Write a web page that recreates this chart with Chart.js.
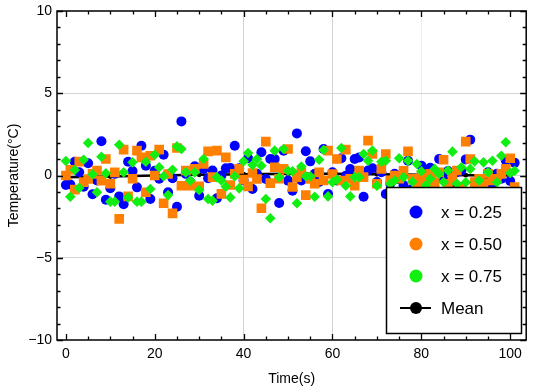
<!DOCTYPE html>
<html>
<head>
<meta charset="utf-8">
<script src="https://cdn.jsdelivr.net/npm/chart.js@4/dist/chart.umd.min.js"></script>
<style>
  html, body { margin: 0; padding: 0; background: #fff; }
  #wrap { width: 533px; height: 388px; }
</style>
</head>
<body>
<div id="wrap"><canvas id="temp-chart" width="533" height="388"></canvas></div>
<script>
// time points (s)
var time = Array.from({length: 102}, function (_, i) { return i; });

var tempX025 = [-0.58, -0.55, 0.84, 0.2, -0.68, 0.74, -1.14, -0.3, 2.08, -1.47,
    -0.78, 0.1, -1.27, -1.75, 0.84, 0.27, -0.72, 1.81, 0.6, -1.43,
    0.29, -0.2, 1.26, -1.02, -0.17, -1.9, 3.29, 0.1, -0.4, 0.56,
    -1.23, 0.4, -0.17, 0.3, -1.38, 0.0, 0.44, 0.45, 1.81, 0.44,
    -0.3, 1.05, -0.82, 0.1, 1.41, -0.21, 1.0, 1.0, -1.67, 1.51,
    -0.31, -0.92, 2.56, -0.3, 1.47, 0.86, 0.1, -0.4, 1.61, -1.12,
    0.2, -0.3, 1.05, -0.01, 0.4, 1.0, 1.1, -1.29, 0.3, 0.44,
    -0.4, 0.2, -1.12, -0.5, 0.1, -0.23, -0.6, 0.9, -0.8, -0.3,
    0.6, 0.3, 0.47, -0.9, 1.0, -0.25, 0.27, -0.6, 0.2, 0.3,
    0.98, 2.18, -0.45, -1.0, -0.3, 0.2, -0.7, 0.1, -0.2, 0.92,
    -0.33, 0.78];

var tempX050 = [0.0, 0.35, -0.86, 0.84, -0.4, -0.21, 0.1, 0.3, -0.31, 1.0,
    -0.5, 0.19, -2.64, 1.57, -1.27, -0.2, 1.51, 1.1, -1.02, 1.2,
    0.0, 1.57, -1.69, 0.09, -2.3, 1.67, -0.62, 0.3, -0.62, 0.4,
    -0.66, 0.7, 1.47, -0.1, 1.51, -1.12, 1.1, -0.58, 0.1, 0.4,
    -0.25, -0.66, 0.15, -0.21, -1.99, 2.06, -0.46, 0.5, -0.2, 0.4,
    1.61, -0.7, -0.11, 0.2, -1.19, -0.21, -0.5, 0.19, -0.3, 1.51,
    0.09, 1.0, -0.3, 1.57, -0.2, -0.62, 0.3, -0.1, 2.12, 1.31,
    -0.5, 0.4, 1.31, -0.3, 0.0, -0.2, 0.29, 1.47, -0.2, -0.5,
    -0.1, -0.3, 0.1, -0.4, 0.2, 0.96, -0.5, -0.11, 0.3, -0.7,
    2.06, 1.0, -0.4, -0.2, -0.5, 0.1, -0.3, -0.2, 0.1, 0.4,
    1.05, -0.7];

var tempX075 = [0.88, -1.29, 0.33, -0.76, 0.96, 1.98, 0.07, -1.02, 1.14, 0.13,
    -1.59, -1.59, 1.87, 0.19, -1.33, 0.8, -1.59, -1.59, 0.84, -0.82,
    1.26, 0.5, -0.05, -1.19, 0.35, 1.77, 1.61, 0.19, -0.31, 0.19,
    -0.88, 1.0, -1.43, -1.53, -0.11, -0.3, -0.68, -1.33, -0.05, -0.78,
    0.86, 1.37, 0.64, 1.0, 0.6, -1.43, -2.6, 1.51, -0.11, 1.61,
    0.29, 0.26, -1.69, 0.54, -0.05, -0.05, -1.29, 0.96, 1.55, -1.27,
    -0.41, -0.25, 1.67, -0.62, -1.27, -0.1, -0.1, 1.31, 0.9, 1.51,
    -0.62, 0.84, 0.9, -0.5, -0.3, 1.05, -0.1, 0.9, -0.38, 0.7,
    0.26, -0.6, -0.2, 0.4, 0.1, -0.4, 0.3, 1.45, -0.5, 0.5,
    -0.41, 0.4, 0.86, -0.3, 0.8, 0.2, 0.9, -0.41, 1.2, 2.02,
    0.15, 0.29];

var meanTime = [0, 10, 20, 30, 40, 50, 60, 70, 80, 90, 100];
var meanTemp = [-0.1, -0.06, 0.0, 0.05, 0.08, 0.1, 0.1, 0.08, 0.05, 0.02, 0.0];

var seriesNames = ['x = 0.25', 'x = 0.50', 'x = 0.75', 'Mean'];
var seriesColors = ['#0000ff', '#ff8000', '#11ee11', '#000000'];

var xTicks = [0, 20, 40, 60, 80, 100];
var yTicks = [-10, -5, 0, 5, 10];

function pts(xs, ys) {
    return ys.map(function (v, i) { return {x: xs[i], y: v}; });
}

var frameAndLegend = {
    id: 'frame-and-legend',
    afterDatasetsDraw: function (chart) {
        var ctx = chart.ctx, a = chart.chartArea;
        var sx = chart.scales.x, sy = chart.scales.y;
        ctx.save();
        ctx.strokeStyle = '#000';
        // inner ticks, all four sides
        ctx.lineWidth = 1.3;
        ctx.beginPath();
        for (var v = 0; v <= 100; v += 5) {
            var px = Math.round(sx.getPixelForValue(v)) + 0.5;
            var len = (v % 20 === 0) ? 6 : 3.5;
            ctx.moveTo(px, a.bottom); ctx.lineTo(px, a.bottom - len);
            ctx.moveTo(px, a.top); ctx.lineTo(px, a.top + len);
        }
        for (var w = -10; w <= 10; w += 1) {
            var py = Math.round(sy.getPixelForValue(w)) + 0.5;
            var l2 = (w % 5 === 0) ? 6 : 3.5;
            ctx.moveTo(a.left, py); ctx.lineTo(a.left + l2, py);
            ctx.moveTo(a.right, py); ctx.lineTo(a.right - l2, py);
        }
        ctx.stroke();

        // legend box
        var bx = 386, by = 187, bw = 135, bh = 146;
        ctx.fillStyle = '#fff';
        ctx.fillRect(bx, by, bw, bh);
        ctx.lineWidth = 1.5;
        ctx.strokeRect(bx + 0.5, by + 0.5, bw, bh);
        var rows = [212, 244, 276, 308];
        ctx.font = '17px "Liberation Sans", Arial, sans-serif';
        ctx.textBaseline = 'middle';
        ctx.textAlign = 'left';
        for (var i = 0; i < 4; i++) {
            ctx.fillStyle = seriesColors[i];
            if (i === 3) {
                ctx.strokeStyle = '#000';
                ctx.lineWidth = 2;
                ctx.beginPath();
                ctx.moveTo(400, rows[i]); ctx.lineTo(431, rows[i]);
                ctx.stroke();
            }
            ctx.beginPath();
            ctx.arc(416, rows[i], i === 3 ? 6 : 6.5, 0, Math.PI * 2);
            ctx.fill();
            ctx.fillStyle = '#000';
            ctx.fillText(seriesNames[i], 441, rows[i] + 1);
        }

        // frame
        ctx.lineWidth = 1.5;
        ctx.strokeStyle = '#000';
        ctx.strokeRect(a.left, a.top, a.right - a.left, a.bottom - a.top);
        ctx.restore();
    }
};

var tickFont = {family: '"Liberation Sans", Arial, sans-serif', size: 14};
var minus = function (v) { return String(v).replace('-', '\u2212'); };

var chart = new Chart(document.getElementById('temp-chart'), {
    type: 'scatter',
    data: {
        datasets: [{
                label: seriesNames[0],
                data: pts(time, tempX025),
                backgroundColor: seriesColors[0],
                borderWidth: 0,
                pointStyle: 'circle',
                pointRadius: 5,
                order: 3
            }, {
                label: seriesNames[1],
                data: pts(time, tempX050),
                backgroundColor: seriesColors[1],
                borderWidth: 0,
                pointStyle: 'rect',
                pointRadius: 6.8,
                order: 2
            }, {
                label: seriesNames[2],
                data: pts(time, tempX075),
                backgroundColor: seriesColors[2],
                borderWidth: 0,
                pointStyle: 'rectRot',
                pointRadius: 5.3,
                order: 1
            }, {
                label: seriesNames[3],
                type: 'line',
                data: pts(meanTime, meanTemp),
                borderColor: '#000',
                backgroundColor: '#000',
                borderWidth: 2.5,
                pointRadius: 1.2,
                order: 4
            }]
    },
    options: {
        responsive: false,
        animation: false,
        events: [],
        layout: {padding: {top: 11, right: 4, left: 6, bottom: 0}},
        plugins: {
            legend: {display: false},
            tooltip: {enabled: false}
        },
        scales: {
            x: {
                type: 'linear',
                min: -2,
                max: 103.6,
                afterBuildTicks: function (axis) {
                    axis.ticks = xTicks.map(function (v) { return {value: v}; });
                },
                afterFit: function (axis) {
                    axis.height = 48;
                    axis.paddingLeft = 0;
                    axis.paddingRight = 0;
                },
                grid: {
                    drawTicks: false,
                    color: function (c) {
                        var v = c.tick && c.tick.value;
                        if (v === 40 || v === 60) return '#d4d4d4';
                        if (v === 80) return '#eeeeee';
                        return 'rgba(0,0,0,0)';
                    }
                },
                border: {display: false},
                ticks: {color: '#000', font: tickFont, padding: 6, callback: minus},
                title: {display: true, text: 'Time(s)', color: '#000', font: tickFont, padding: {top: 3, bottom: 0}}
            },
            y: {
                type: 'linear',
                min: -10,
                max: 10,
                afterBuildTicks: function (axis) {
                    axis.ticks = yTicks.map(function (v) { return {value: v}; });
                },
                afterFit: function (axis) {
                    axis.width = 51;
                    axis.paddingTop = 0;
                    axis.paddingBottom = 0;
                },
                grid: {
                    drawTicks: false,
                    color: function (c) {
                        var v = c.tick && c.tick.value;
                        return (v === -5 || v === 0 || v === 5) ? '#d4d4d4' : 'rgba(0,0,0,0)';
                    }
                },
                border: {display: false},
                ticks: {color: '#000', font: tickFont, padding: 5, callback: minus},
                title: {display: true, text: 'Temperature(\u00b0C)', color: '#000', font: tickFont, padding: {top: 0, bottom: 0}}
            }
        }
    },
    plugins: [frameAndLegend]
});
</script>
</body>
</html>
